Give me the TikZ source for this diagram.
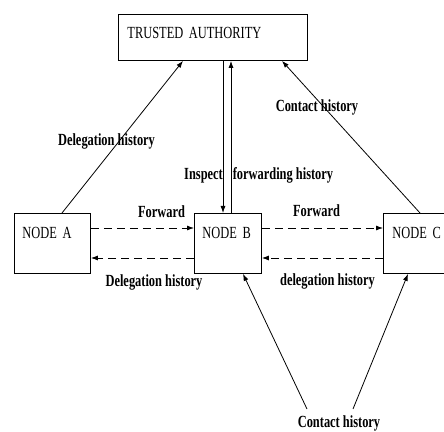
\documentclass[tikz,border=0pt]{standalone}
\usepackage{fontspec}
\setmainfont{Liberation Serif}
\newfontfamily\dfont[FakeStretch=0.73]{Liberation Serif}
\usetikzlibrary{arrows.meta}
\begin{document}
\begin{tikzpicture}[x=1pt,y=1pt,
  line width=0.8pt,
  box/.style={draw, line width=0.9pt, inner ysep=0pt, align=left, font=\dfont\fontsize{17}{20}\selectfont},
  lbl/.style={font=\dfont\bfseries\fontsize{17}{20}\selectfont, inner sep=0pt, anchor=base},
  arr/.style={-{Latex[length=7pt,width=5pt]}},
  dsh/.style={dash pattern=on 8pt off 5pt}]
\useasboundingbox (0,0) rectangle (444,431);
% boxes
\node[box, anchor=north west, inner xsep=9pt, text width=171pt, text height=23.6pt, text depth=22.4pt] (TA) at (118,417) {TRUSTED~AUTHORITY};
\node[box, anchor=north west, inner xsep=8pt, text width=60pt, text height=24.6pt, text depth=35.4pt] (A) at (14,218) {NODE~A};
\node[box, anchor=north west, inner xsep=8pt, text width=51pt, text height=24.6pt, text depth=35.4pt] (B) at (194,218) {NODE~B};
\node[box, anchor=north west, inner xsep=9pt, text width=47pt, text height=24.6pt, text depth=35.4pt] (C) at (383,218) {NODE~C};
% helper coordinates
\coordinate (b1) at ([xshift=29pt]B.north west);
\coordinate (b2) at ([xshift=37pt]B.north west);
\coordinate (p1) at (307,22);
\coordinate (p2) at (353,22);
% vertical arrows between TA and B
\draw[arr] (b1 |- TA.south) -- (b1);
\draw[arr] (b2) -- (b2 |- TA.south);
% diagonal arrows to TA
\draw[arr] ([xshift=48pt]A.north west) -- ([xshift=65pt]TA.south west);
\draw[arr] ([xshift=37pt]C.north west) -- ([xshift=164pt]TA.south west);
% dashed arrows
\draw[arr,dsh] ([yshift=-15pt]A.north east) -- ([yshift=-15pt]B.north west);
\draw[arr,dsh] ([yshift=-45pt]B.north west) -- ([yshift=-45pt]A.north east);
\draw[arr,dsh] ([yshift=-15pt]B.north east) -- ([yshift=-15pt]C.north west);
\draw[arr,dsh] ([yshift=-45pt]C.north west) -- ([yshift=-45pt]B.north east);
% bottom arrows
\draw[arr] (p1) -- ([xshift=49pt]B.south west);
\draw[arr] (p2) -- ([xshift=25pt]C.south west);
% labels
\node[lbl] (l1) at (106.5,285) {Delegation history};
\node[lbl] (l2) at (317,319) {Contact history};
\node[lbl] (l3) at (203.5,251) {Inspect};
\node[lbl] (l4) at (283,251) {forwarding history};
\node[lbl] (l5) at (161.5,213) {Forward};
\node[lbl] (l6) at (316.5,214) {Forward};
\node[lbl] (l7) at (154,144) {Delegation history};
\node[lbl] (l8) at (327.5,145) {delegation history};
\node[lbl] (l9) at (339,4) {Contact history};
\end{tikzpicture}
\end{document}
